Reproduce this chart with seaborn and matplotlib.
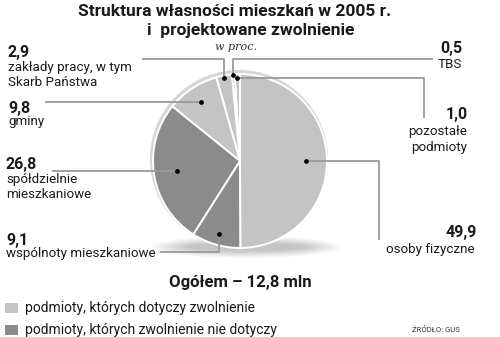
import numpy as np
import matplotlib
matplotlib.use("Agg")
import matplotlib.pyplot as plt
from matplotlib.patches import Ellipse, Rectangle
import seaborn as sns

# Ownership structure of dwellings, 2005 (per cent), counter-clockwise from the top
categories = ["pozostałe podmioty", "TBS", "zakłady pracy, w tym Skarb Państwa",
              "gminy", "spółdzielnie mieszkaniowe", "wspólnoty mieszkaniowe",
              "osoby fizyczne"]
shares = [1.0, 0.5, 2.9, 9.8, 26.8, 9.1, 49.9]
exempt = [True, True, True, True, False, False, True]
value_labels = ["1,0", "0,5", "2,9", "9,8", "26,8", "9,1", "49,9"]
legend_labels = ["podmioty, których dotyczy zwolnienie",
                 "podmioty, których zwolnienie nie dotyczy"]

sns.set_theme(style="white")
plt.rcParams["font.family"] = ["Roboto", "DejaVu Sans"]

light, dark = sns.color_palette(["#c4c4c4", "#8b8b8b"])
colors = [light if e else dark for e in exempt]

W, H = 500, 337
fig = plt.figure(figsize=(W / 100, H / 100), dpi=100)
ax = fig.add_axes([0, 0, 1, 1])


def Y(y):
    return H - y


cx, cy, R = 240, 161, 87

# soft shadow under the pie
for k in range(10):
    ax.add_patch(Ellipse((cx + 6, Y(247)), 190 - 8 * k, 22 - 1.6 * k,
                         color="#000000", alpha=0.025, lw=0, zorder=0))
# rim giving the disc some depth
ax.add_patch(Ellipse((cx - 1, Y(cy - 2)), 2 * R + 4, 2 * R + 4,
                     color="#d6d6d6", lw=0, zorder=1))

wedges, _ = ax.pie(shares, colors=colors, startangle=90, counterclock=True,
                   center=(cx, Y(cy)), radius=R,
                   wedgeprops=dict(edgecolor="white", linewidth=1.4, zorder=2))

line_kw = dict(color="#9a9a9a", lw=1.3, zorder=3, solid_capstyle="butt")


def anchor(w, frac):
    ang = np.deg2rad((w.theta1 + w.theta2) / 2)
    return cx + frac * R * np.cos(ang), cy - frac * R * np.sin(ang)


def anchor_at_y(w, y):
    ang = np.deg2rad((w.theta1 + w.theta2) / 2)
    dy = cy - y
    return cx + dy / np.tan(ang), y


def leader(points):
    xs = [p[0] for p in points]
    ys = [Y(p[1]) for p in points]
    ax.plot(xs, ys, **line_kw)
    ax.plot(xs[0], ys[0], "o", color="black", ms=2.4, zorder=4)


# leader lines from each slice to its caption
p = anchor(wedges[0], 0.95)
leader([p, (424, p[1]), (424, 118)])
p = anchor(wedges[1], 0.99)
leader([p, (p[0], 59), (433, 59)])
p = anchor(wedges[2], 0.97)
leader([p, (p[0], 59), (142, 59)])
p = anchor_at_y(wedges[3], 102)
leader([p, (45, 102)])
p = anchor(wedges[4], 0.73)
leader([p, (52, p[1])])
p = anchor(wedges[5], 0.87)
leader([p, (p[0], 252), (160, 252)])
p = anchor(wedges[6], 0.76)
leader([p, (379, p[1]), (379, 240)])

num_kw = dict(fontsize=11.5, fontweight="bold", color="#1a1a1a", va="center")
lab_kw = dict(fontsize=9.6, color="#1a1a1a", va="center")

# captions, left side
ax.text(8, Y(52), value_labels[2], ha="left", **num_kw)
ax.text(8, Y(67), "zakłady pracy, w tym", ha="left", **lab_kw)
ax.text(8, Y(83), "Skarb Państwa", ha="left", **lab_kw)
ax.text(8, Y(108), value_labels[3], ha="left", **num_kw)
ax.text(8, Y(122), "gminy", ha="left", **lab_kw)
ax.text(6, Y(165), value_labels[4], ha="left", **num_kw)
ax.text(6, Y(180), "spółdzielnie", ha="left", **lab_kw)
ax.text(6, Y(195), "mieszkaniowe", ha="left", **lab_kw)
ax.text(6, Y(240), value_labels[5], ha="left", **num_kw)
ax.text(6, Y(253), "wspólnoty mieszkaniowe", ha="left", **lab_kw)

# captions, right side
ax.text(462, Y(48), value_labels[1], ha="right", **num_kw)
ax.text(462, Y(65), "TBS", ha="right", **lab_kw)
ax.text(468, Y(114), value_labels[0], ha="right", **num_kw)
ax.text(467, Y(132), "pozostałe", ha="right", **lab_kw)
ax.text(467, Y(147), "podmioty", ha="right", **lab_kw)
ax.text(477, Y(233), value_labels[6], ha="right", **num_kw)
ax.text(475, Y(250), "osoby fizyczne", ha="right", **lab_kw)

# title block
ax.text(235, Y(12), "Struktura własności mieszkań w 2005 r.", ha="center",
        va="center", fontsize=12.5, fontweight="bold", color="#1a1a1a")
ax.text(251, Y(30), "i  projektowane zwolnienie", ha="center", va="center",
        fontsize=12.5, fontweight="bold", color="#1a1a1a")
ax.text(236, Y(47), "w proc.", ha="center", va="center", fontsize=8,
        style="italic", family=["DejaVu Serif"], color="#333333")

ax.text(240, Y(283), "Ogółem – 12,8 mln", ha="center", va="center",
        fontsize=12, fontweight="bold", color="#1a1a1a")

# legend
for i, (lab, col) in enumerate(zip(legend_labels, [light, dark])):
    yy = 308 + 22 * i
    ax.add_patch(Rectangle((5, Y(yy + 5)), 13, 10, color=col, lw=0))
    ax.text(25, Y(yy), lab, ha="left", va="center", fontsize=10,
            color="#1a1a1a")

ax.text(412, Y(330), "ŹRÓDŁO: GUS", ha="left", va="center", fontsize=5.5,
        color="#333333")

ax.set_xlim(0, W)
ax.set_ylim(0, H)
ax.set_aspect("auto")
ax.axis("off")
fig.savefig("out.png", dpi=100, facecolor="white")
